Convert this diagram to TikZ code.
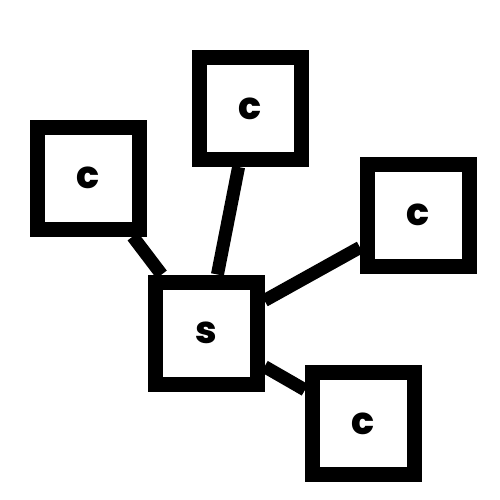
\documentclass[tikz,border=0pt]{standalone}
\usepackage{fontspec}
\setmainfont{Poppins}
\newfontfamily\heavyfont{Poppins}[UprightFont=* ExtraBold]
\begin{document}
\begin{tikzpicture}[x=1pt,y=-1pt,
  box/.style={draw=black,line width=15pt,minimum size=102pt,inner sep=0pt,
    font=\fontsize{38}{38}\heavyfont},
  link/.style={draw=black,line width=13pt}]
\useasboundingbox (0,0) rectangle (500,500);
\node[box] (s) at (206,333) {s};
\node[box] (cl) at (88.5,178) {c};
\node[box] (ct) at (250,108.5) {c};
\node[box] (cr) at (418.5,215) {c};
\node[box] (cb) at (363.5,423.5) {c};
\draw[link] (s) -- (cl);
\draw[link] (s) -- (ct);
\draw[link] (s) -- (cr);
\draw[link] (s) -- (cb);
\end{tikzpicture}
\end{document}
